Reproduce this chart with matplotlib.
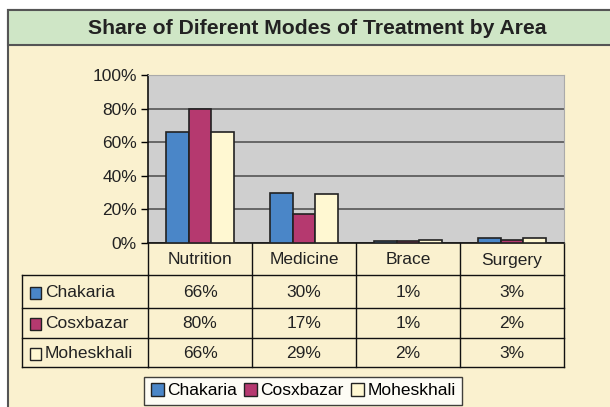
import numpy as np
import matplotlib
matplotlib.use("Agg")
import matplotlib.pyplot as plt
from matplotlib.patches import Rectangle
from matplotlib.transforms import blended_transform_factory

plt.rcParams["font.family"] = ["Liberation Sans", "DejaVu Sans"]

categories = ["Nutrition", "Medicine", "Brace", "Surgery"]
areas = ["Chakaria", "Cosxbazar", "Moheskhali"]
chakaria = [66, 30, 1, 3]
cosxbazar = [80, 17, 1, 2]
moheskhali = [66, 29, 2, 3]
series = [chakaria, cosxbazar, moheskhali]
colors = ["#4a86c8", "#b5396f", "#fff8d2"]
yticks = [0, 20, 40, 60, 80, 100]

FS = 12.5
W, H = 610, 407
fig = plt.figure(figsize=(W / 100, H / 100), dpi=100)
fig.patch.set_facecolor("white")

# overlay in pixel coordinates (y down) for frame and table
ov = fig.add_axes([0, 0, 1, 1], zorder=0)
ov.set_xlim(0, W)
ov.set_ylim(H, 0)
ov.axis("off")

ov.add_patch(Rectangle((8, 10), W, H, facecolor="#faf1cf", edgecolor="#555555", lw=1.5))
ov.add_patch(Rectangle((8, 10), W, 35, facecolor="#cfe6c6", edgecolor="#555555", lw=1.5))
ov.text(317, 28, "Share of Diferent Modes of Treatment by Area", ha="center", va="center",
        fontsize=15.2, fontweight="bold", color="#222222")

ax = fig.add_axes([148 / W, 1 - 243 / H, (564 - 148) / W, (243 - 75) / H], zorder=1)
ax.set_facecolor("#cfcfcf")
x = np.arange(len(categories))
bw = 0.22
for i, (vals, col) in enumerate(zip(series, colors)):
    ax.bar(x + (i - 1) * bw, vals, bw, color=col, edgecolor="#222222", lw=1.2, zorder=3)

ax.set_xlim(-0.5, len(categories) - 0.5)
ax.set_ylim(0, 100)
ax.set_yticks(yticks)
ax.set_yticklabels([f"{t}%" for t in yticks], fontsize=FS, color="#222222")
ax.set_xticks([])
ax.grid(axis="y", color="#555555", lw=1.2, zorder=1)
ax.tick_params(axis="y", length=5, width=1, direction="out", pad=3)
for s in ["top", "right"]:
    ax.spines[s].set_color("#aaaaaa")
ax.spines["left"].set_color("#111111")
ax.spines["bottom"].set_color("#111111")
ax.spines["left"].set_linewidth(1.2)
ax.spines["bottom"].set_linewidth(1.2)

# data table under the axis
tr = blended_transform_factory(ax.transData, ov.transData)
rows_y = [243, 275, 308, 338, 367]
line_kw = dict(color="#111111", lw=1, clip_on=False)
xl, xr = -0.5, len(categories) - 0.5
for k in range(len(categories) + 1):
    ov.plot([k - 0.5, k - 0.5], [rows_y[0], rows_y[-1]], transform=tr, **line_kw)
for j, cat in enumerate(categories):
    ov.text(j, (rows_y[0] + rows_y[1]) / 2 + 1, cat, transform=tr, ha="center", va="center",
            fontsize=FS, color="#222222")
for yy in rows_y[1:]:
    ov.plot([22, 148], [yy, yy], **line_kw)
    ov.plot([xl, xr], [yy, yy], transform=tr, **line_kw)
ov.plot([22, 22], [rows_y[1], rows_y[-1]], **line_kw)
for i, (name, vals, col) in enumerate(zip(areas, series, colors)):
    yc = (rows_y[i + 1] + rows_y[i + 2]) / 2
    ov.add_patch(Rectangle((30, yc - 5), 11, 12, facecolor=col, edgecolor="#222222", lw=1))
    ov.text(45, yc + 1, name, ha="left", va="center", fontsize=FS, color="#222222")
    for j, v in enumerate(vals):
        ov.text(j, yc + 1, f"{v}%", transform=tr, ha="center", va="center",
                fontsize=FS, color="#222222")

handles = [Rectangle((0, 0), 1, 1, facecolor=c, edgecolor="#222222", lw=1) for c in colors]
leg = fig.legend(handles, areas, loc="upper center", bbox_to_anchor=(303 / W, 1 - 377 / H),
                 ncol=3, fontsize=FS, frameon=True, fancybox=False, edgecolor="#111111",
                 handlelength=0.75, handleheight=0.75, handletextpad=0.2, columnspacing=0.4,
                 borderpad=0.35, borderaxespad=0)
leg.get_frame().set_linewidth(1)
leg.get_frame().set_facecolor("white")

fig.savefig("out.png", dpi=100, facecolor=fig.get_facecolor())
